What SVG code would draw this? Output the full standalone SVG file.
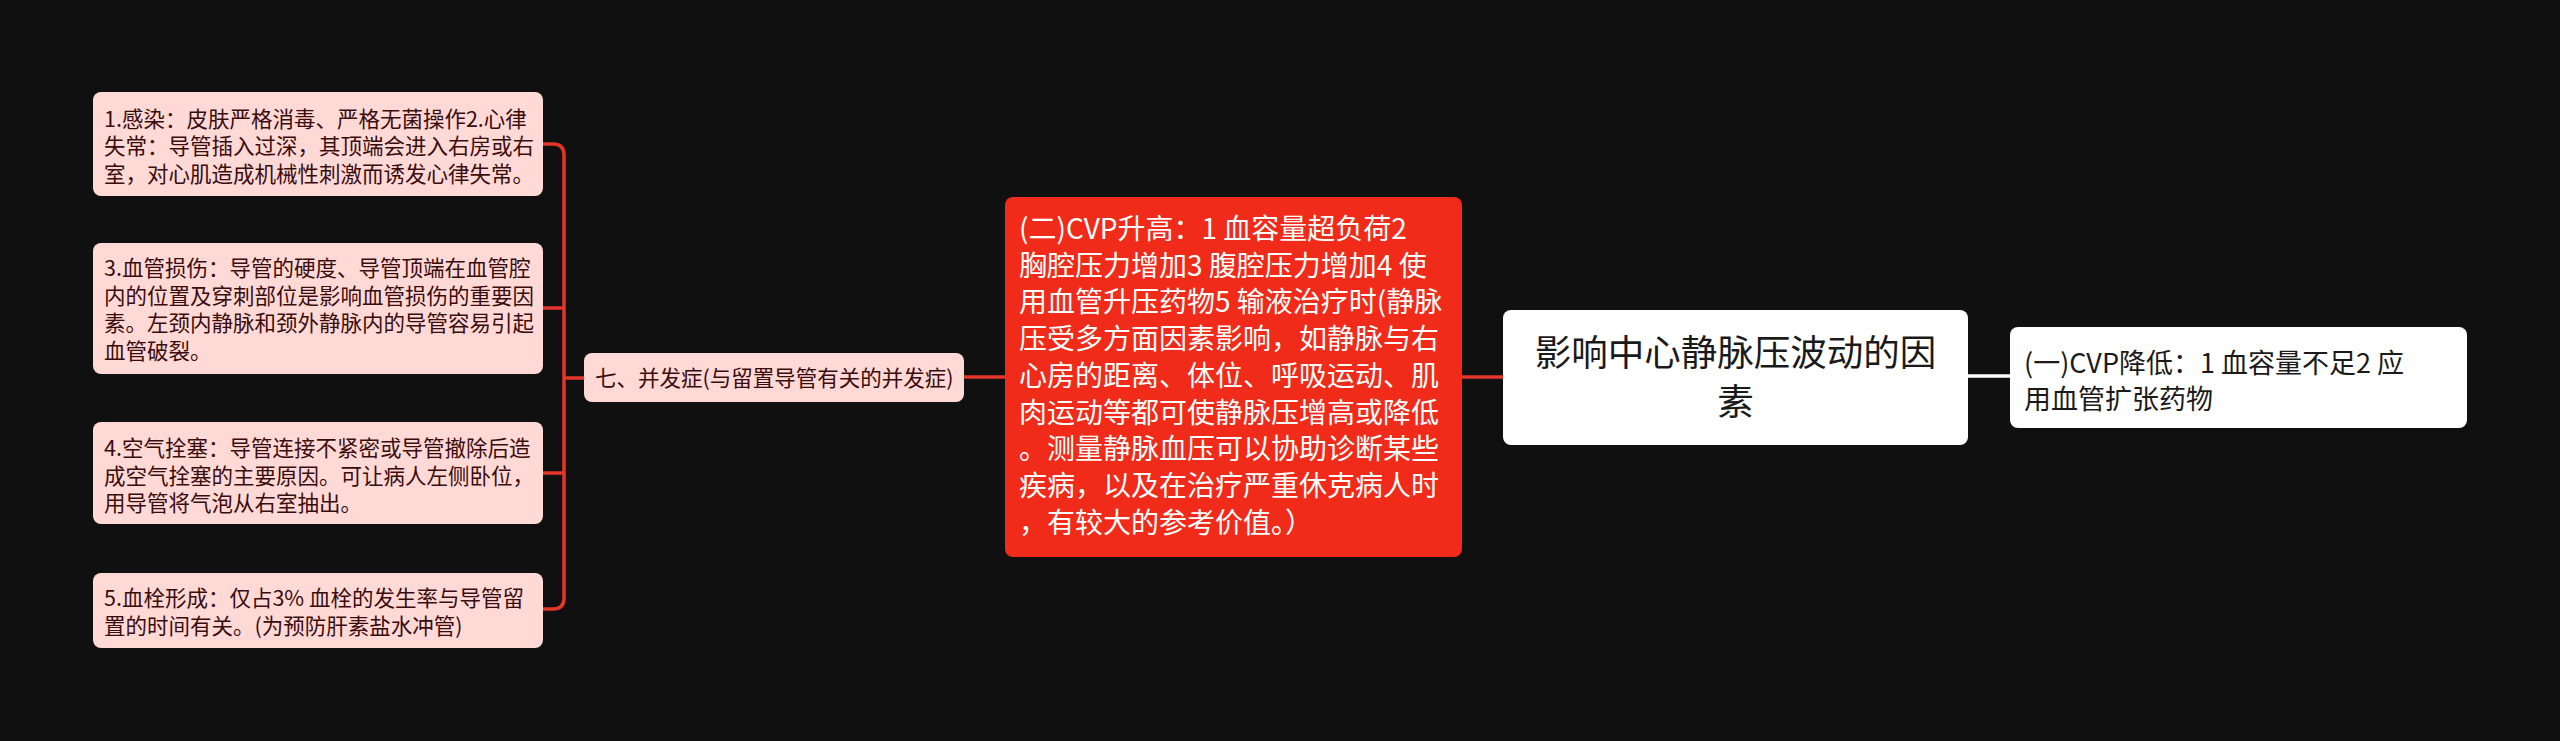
<svg xmlns="http://www.w3.org/2000/svg" width="2560" height="741" viewBox="0 0 2560 741">
<style>
.t{font-family:"Noto Sans CJK SC","Noto Sans",sans-serif}
.leaf rect{fill:#FFD9D6}
.leaf text{fill:#3A0C0C;font-size:21.5px}
.red rect{fill:#F02B1A}
.red text{fill:#FFFFFF;font-size:28px}
.white rect{fill:#FFFFFF}
.white text{fill:#1A1A1A}
.lnk{fill:none;stroke:#E3352A;stroke-width:3.5}
</style>
<rect x="0" y="0" width="2560" height="741" fill="#101010"/>
<g id="connectors">
<path class="lnk" d="M543 144 H553 Q564 144 564 155 V598 Q564 609 553 609 H543"/>
<path class="lnk" d="M543 308 H564 M543 473 H564 M564 378 H584"/>
<path class="lnk" d="M964 377 H1005"/>
<path class="lnk" d="M1462 377 H1503"/>
<path fill="none" stroke="#FFFFFF" stroke-width="3.5" d="M1968 376 H2010"/>
</g>
<g id="node-center" class="white t">
<rect x="1503" y="310" width="465" height="135" rx="8"/>
<text x="1735.5" y="366" font-size="36.5" text-anchor="middle">影响中心静脉压波动的因</text>
<text x="1735.5" y="415" font-size="36.5" text-anchor="middle">素</text>
</g>
<g id="node-right" class="white t">
<rect x="2010" y="327" width="457" height="101" rx="8"/>
<text x="2024" y="373" font-size="27">(一)CVP降低：1 血容量不足2 应</text>
<text x="2024" y="409" font-size="27">用血管扩张药物</text>
</g>
<g id="node-red" class="red t">
<rect x="1005" y="197" width="457" height="360" rx="8"/>
<text x="1019" y="239">(二)CVP升高：1 血容量超负荷2</text>
<text x="1019" y="275.7">胸腔压力增加3 腹腔压力增加4 使</text>
<text x="1019" y="312.4">用血管升压药物5 输液治疗时(静脉</text>
<text x="1019" y="349.1">压受多方面因素影响，如静脉与右</text>
<text x="1019" y="385.8">心房的距离、体位、呼吸运动、肌</text>
<text x="1019" y="422.5">肉运动等都可使静脉压增高或降低</text>
<text x="1019" y="459.2">。测量静脉血压可以协助诊断某些</text>
<text x="1019" y="495.9">疾病，以及在治疗严重休克病人时</text>
<text x="1019" y="532.6">，有较大的参考价值。）</text>
</g>
<g id="node-complication" class="leaf t">
<rect x="584" y="353" width="380" height="49" rx="8"/>
<text x="595" y="386">七、并发症(与留置导管有关的并发症)</text>
</g>
<g id="node-1" class="leaf t">
<rect x="93" y="92" width="450" height="104" rx="8"/>
<text x="104" y="126.5">1.感染：皮肤严格消毒、严格无菌操作2.心律</text>
<text x="104" y="154">失常：导管插入过深，其顶端会进入右房或右</text>
<text x="104" y="181.5">室，对心肌造成机械性刺激而诱发心律失常。</text>
</g>
<g id="node-3" class="leaf t">
<rect x="93" y="243" width="450" height="131" rx="8"/>
<text x="104" y="276">3.血管损伤：导管的硬度、导管顶端在血管腔</text>
<text x="104" y="303.7">内的位置及穿刺部位是影响血管损伤的重要因</text>
<text x="104" y="331.4">素。左颈内静脉和颈外静脉内的导管容易引起</text>
<text x="104" y="359.1">血管破裂。</text>
</g>
<g id="node-4" class="leaf t">
<rect x="93" y="422" width="450" height="102" rx="8"/>
<text x="104" y="456">4.空气拴塞：导管连接不紧密或导管撤除后造</text>
<text x="104" y="483.7">成空气拴塞的主要原因。可让病人左侧卧位，</text>
<text x="104" y="511.4">用导管将气泡从右室抽出。</text>
</g>
<g id="node-5" class="leaf t">
<rect x="93" y="573" width="450" height="75" rx="8"/>
<text x="104" y="606">5.血栓形成：仅占3% 血栓的发生率与导管留</text>
<text x="104" y="633.7">置的时间有关。(为预防肝素盐水冲管)</text>
</g>
</svg>
